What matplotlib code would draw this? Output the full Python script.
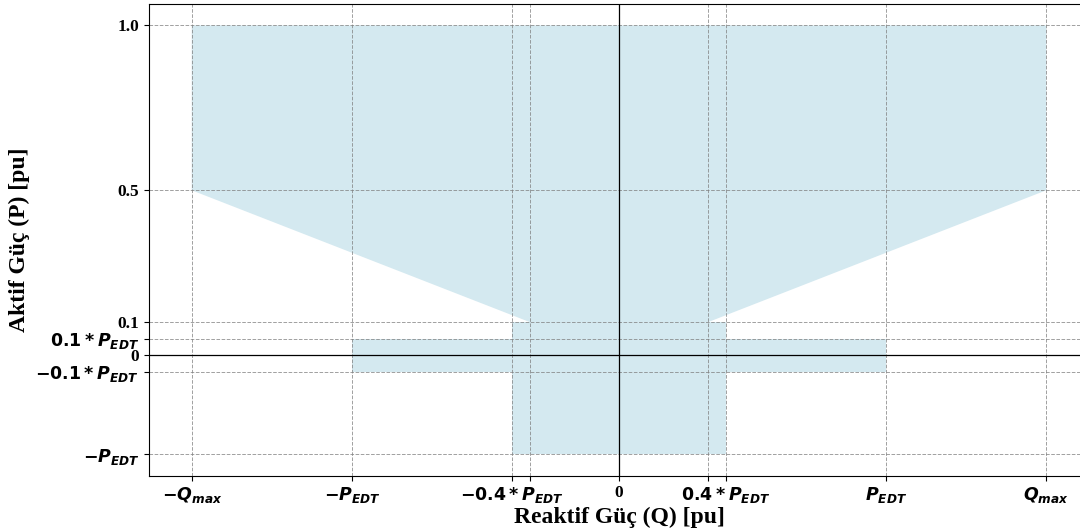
import matplotlib
matplotlib.use("Agg")
import matplotlib.pyplot as plt

plt.rcParams['font.family'] = ['Liberation Serif', 'DejaVu Serif']
plt.rcParams['mathtext.fontset'] = 'custom'
plt.rcParams['mathtext.rm'] = 'DejaVu Sans:bold'
plt.rcParams['mathtext.it'] = 'DejaVu Sans:italic:bold'
plt.rcParams['mathtext.bf'] = 'DejaVu Sans:bold'

# operating limits (pu)
Q_max = 0.96
P_edt_q = 0.6          # P_EDT on the Q axis
q_knee = 0.2           # where the slanted edges reach P = 0.1
P_edt_p = 0.3          # P_EDT on the P axis
p_band = 0.05          # 0.1*P_EDT band
p_knee = 0.1
p_mid = 0.5
p_top = 1.0

xticks = [-Q_max, -P_edt_q, -0.4 * P_edt_q, -q_knee, 0, q_knee, 0.4 * P_edt_q, P_edt_q, Q_max]
xlabels = [r'$-Q_{max}$', r'$-P_{EDT}$', r'$-0.4*P_{EDT}$', '', '0', '',
           r'$0.4*P_{EDT}$', r'$P_{EDT}$', r'$Q_{max}$']
yticks = [-P_edt_p, -p_band, 0, p_band, p_knee, p_mid, p_top]
ylabels = [r'$-P_{EDT}$', r'$-0.1*P_{EDT}$', '0', r'$0.1*P_{EDT}$', '0.1', '0.5', '1.0']

fill_col = '#d4e9f0'

fig = plt.figure(figsize=(10.8, 5.32), dpi=100)
ax = fig.add_axes([149 / 1080, 56.5 / 532, 940 / 1080, 471.5 / 532])

# upper region
ax.fill([-Q_max, Q_max, Q_max, q_knee, -q_knee, -Q_max],
        [p_top, p_top, p_mid, p_knee, p_knee, p_mid],
        color=fill_col, lw=0)
# +-0.1*P_EDT band
ax.fill([-P_edt_q, P_edt_q, P_edt_q, -P_edt_q],
        [-p_band, -p_band, p_band, p_band], color=fill_col, lw=0)
# lower block
ax.fill([-0.4 * P_edt_q, 0.4 * P_edt_q, 0.4 * P_edt_q, -0.4 * P_edt_q],
        [-P_edt_p, -P_edt_p, p_knee, p_knee], color=fill_col, lw=0)

ax.axhline(0, color='black', lw=0.9)
ax.axvline(0, color='black', lw=0.9)

ax.set_xticks(xticks)
ax.set_xticklabels(xlabels, fontsize=12.5, fontweight='bold')
ax.set_yticks(yticks)
ax.set_yticklabels(ylabels, fontsize=12.5, fontweight='bold')
ax.grid(True, linestyle='--', color='gray', lw=0.7, alpha=0.75)

ax.set_xlabel('Reaktif Güç (Q) [pu]', fontsize=17, fontweight='bold', labelpad=1)
ax.set_ylabel('Aktif Güç (P) [pu]', fontsize=17, fontweight='bold')

fig.savefig('out.png', dpi=100)
